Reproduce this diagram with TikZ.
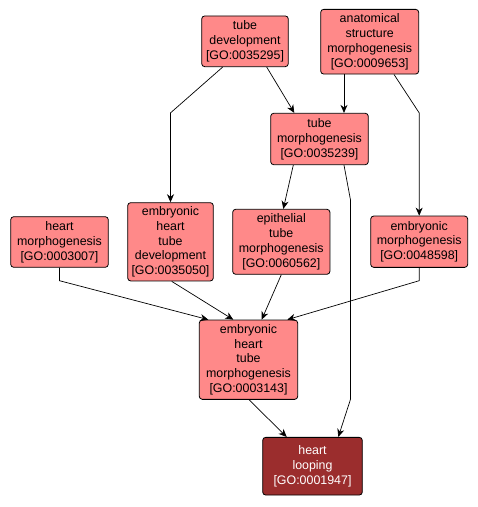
\documentclass[tikz,border=0pt]{standalone}
\usepackage{fontspec}
\setmainfont{Liberation Sans}
\usetikzlibrary{arrows.meta,calc}
\definecolor{lightred}{RGB}{255,137,137}
\definecolor{darkred}{RGB}{155,45,45}
\begin{document}
\begin{tikzpicture}[x=1pt,y=-1pt,
  gobox/.style={draw=black,line width=0.8pt,rounded corners=3pt,fill=lightred,align=center,
    inner sep=0pt,font=\fontsize{12.4}{14.8}\selectfont},
  golink/.style={draw=black,line width=0.7pt,-{Stealth[length=8pt,width=7pt,inset=2.5pt]}}]
\useasboundingbox (0,0) rectangle (478,507);
\node[gobox,minimum width=86.6pt,minimum height=50.7pt] (tdev) at (245,41.3) {tube\\development\\{[GO:0035295]}};
\node[gobox,minimum width=98pt,minimum height=64.7pt] (asm) at (369.7,41.7) {anatomical\\structure\\morphogenesis\\{[GO:0009653]}};
\node[gobox,minimum width=97.6pt,minimum height=51.4pt] (tmorph) at (319.5,139) {tube\\morphogenesis\\{[GO:0035239]}};
\node[gobox,minimum width=97.6pt,minimum height=50.6pt] (hmorph) at (59.5,242) {heart\\morphogenesis\\{[GO:0003007]}};
\node[gobox,minimum width=85.6pt,minimum height=78.3pt] (ehtd) at (170.5,241.8) {embryonic\\heart\\tube\\development\\{[GO:0035050]}};
\node[gobox,minimum width=97.3pt,minimum height=65pt] (epi) at (281.3,241.8) {epithelial\\tube\\morphogenesis\\{[GO:0060562]}};
\node[gobox,minimum width=97pt,minimum height=51.3pt] (emorph) at (419.2,241.7) {embryonic\\morphogenesis\\{[GO:0048598]}};
\node[gobox,minimum width=98.4pt,minimum height=79.3pt] (ehtm) at (248.5,359.7) {embryonic\\heart\\tube\\morphogenesis\\{[GO:0003143]}};
\node[gobox,fill=darkred,text=white,minimum width=99.6pt,minimum height=57.7pt] (hloop) at (312.5,466.2) {heart\\looping\\{[GO:0001947]}};
\coordinate (b1) at (350.5,200);
\coordinate (b2) at (350.5,399.3);
\coordinate (b3) at (59.5,280.7);
\coordinate (b4) at (419.2,280.7);
\draw[golink] ([xshift=21.7pt]tdev.south) -- ([xshift=-25.2pt]tmorph.north);
\draw[golink] ([xshift=-22.3pt]tdev.south) -- (ehtd.north |- tmorph.north) -- (ehtd.north);
\draw[golink] ([xshift=-25.7pt]asm.south) -- ([xshift=24.5pt]tmorph.north);
\draw[golink] ([xshift=24.3pt]asm.south) -- (emorph.north |- tmorph.north) -- (emorph.north);
\draw[golink] ([xshift=-26.2pt]tmorph.south) -- ([xshift=2pt]epi.north);
\draw[golink] ([xshift=24.5pt]tmorph.south) -- (b1) -- (b2) -- ([xshift=25.8pt]hloop.north);
\draw[golink] (hmorph.south) -- (b3) -- ([xshift=-40.2pt]ehtm.north);
\draw[golink] ([xshift=1.2pt]ehtd.south) -- ([xshift=-15.2pt]ehtm.north);
\draw[golink] (epi.south) -- ([xshift=13.2pt]ehtm.north);
\draw[golink] (emorph.south) -- (b4) -- ([xshift=38.8pt]ehtm.north);
\draw[golink] ([xshift=0.5pt]ehtm.south) -- ([xshift=-25.8pt]hloop.north);
\end{tikzpicture}
\end{document}
